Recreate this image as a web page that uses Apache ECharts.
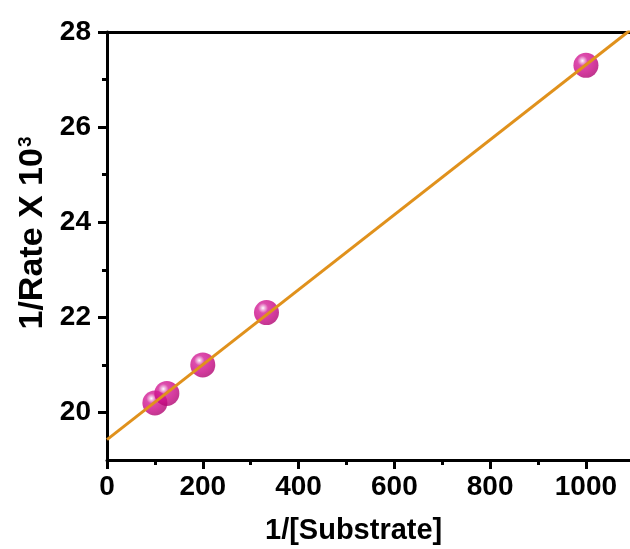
<!DOCTYPE html>
<html>
<head>
<meta charset="utf-8">
<script src="https://cdn.jsdelivr.net/npm/echarts@6/dist/echarts.min.js"></script>
<style>
  html, body { margin: 0; padding: 0; background: #fff; }
  #chart { width: 630px; height: 549px; }
</style>
</head>
<body>
<div id="chart"></div>
<script>
// Lineweaver–Burk style data: 1/[S] against 1/rate (×10^3)
const invSubstrate = [100, 125, 200, 333, 1000];
const invRate = [20.2, 20.4, 21.0, 22.1, 27.3];

const xMajorTicks = [0, 200, 400, 600, 800, 1000];
const xMinorTicks = [100, 300, 500, 700, 900];
const yMajorTicks = [20, 22, 24, 26, 28];
const yMinorTicks = [21, 23, 25, 27];

// least-squares fit through the measured points
function linearFit(xs, ys) {
  const n = xs.length;
  const mx = xs.reduce((a, b) => a + b, 0) / n;
  const my = ys.reduce((a, b) => a + b, 0) / n;
  let sxy = 0, sxx = 0;
  for (let i = 0; i < n; i++) {
    sxy += (xs[i] - mx) * (ys[i] - my);
    sxx += (xs[i] - mx) * (xs[i] - mx);
  }
  const slope = sxy / sxx;
  return { slope, intercept: my - slope * mx };
}

const X_MIN = 0, X_MAX = 1092, Y_MIN = 19, Y_MAX = 28;
const fit = linearFit(invSubstrate, invRate);
const fitLine = [X_MIN, X_MAX].map(x => [x, fit.intercept + fit.slope * x]);

const FONT = 'Liberation Sans';
const axisLineStyle = { color: '#000', width: 3 };
const plain = v => String(v);

const chart = echarts.init(document.getElementById('chart'), null, { renderer: 'canvas' });
chart.setOption({
  backgroundColor: '#fff',
  animation: false,
  grid: { left: 107, top: 32, right: 0, bottom: 89, containLabel: false },
  graphic: [
    {
      type: 'text', left: 265, top: 516,
      style: { text: '1/[Substrate]', fill: '#000', font: 'bold 29px "Liberation Sans"' }
    },
    {
      type: 'text', x: 50, y: 233, rotation: Math.PI / 2, originX: 0, originY: 0,
      style: {
        text: '1/Rate X 10{sup|3}', fill: '#000', align: 'center', verticalAlign: 'bottom',
        font: 'bold 34px "Liberation Sans"',
        rich: {
          sup: { font: 'bold 19px "Liberation Sans"', fill: '#000', verticalAlign: 'top', padding: [0, 0, 15, 1] }
        }
      }
    }
  ],
  xAxis: [
    {
      type: 'value', position: 'bottom', min: X_MIN, max: X_MAX,
      axisLine: { show: true, lineStyle: axisLineStyle },
      axisTick: { show: true, inside: false, length: 9, lineStyle: { color: '#000', width: 3 }, customValues: xMajorTicks },
      axisLabel: { customValues: xMajorTicks, formatter: plain, margin: 13, color: '#000', fontFamily: FONT, fontWeight: 'bold', fontSize: 28 },
      splitLine: { show: false }
    },
    {
      type: 'value', position: 'bottom', min: X_MIN, max: X_MAX,
      axisLine: { show: false },
      axisTick: { show: true, inside: false, length: 5, lineStyle: { color: '#000', width: 3 }, customValues: xMinorTicks },
      axisLabel: { show: false },
      splitLine: { show: false }
    },
    {
      type: 'value', position: 'top', min: X_MIN, max: X_MAX,
      axisLine: { show: true, lineStyle: axisLineStyle },
      axisTick: { show: false }, axisLabel: { show: false }, splitLine: { show: false }
    }
  ],
  yAxis: [
    {
      type: 'value', position: 'left', min: Y_MIN, max: Y_MAX,
      axisLine: { show: true, lineStyle: axisLineStyle },
      axisTick: { show: true, inside: false, length: 9, lineStyle: { color: '#000', width: 3 }, customValues: yMajorTicks },
      axisLabel: { customValues: yMajorTicks, formatter: plain, margin: 16, color: '#000', fontFamily: FONT, fontWeight: 'bold', fontSize: 28 },
      splitLine: { show: false }
    },
    {
      type: 'value', position: 'left', min: Y_MIN, max: Y_MAX,
      axisLine: { show: false },
      axisTick: { show: true, inside: false, length: 5, lineStyle: { color: '#000', width: 3 }, customValues: yMinorTicks },
      axisLabel: { show: false },
      splitLine: { show: false }
    }
  ],
  series: [
    {
      type: 'scatter', xAxisIndex: 0, yAxisIndex: 0, z: 2,
      symbol: 'circle', symbolSize: 25,
      data: invSubstrate.map((x, i) => [x, invRate[i]]),
      itemStyle: {
        color: {
          type: 'radial', x: 0.36, y: 0.32, r: 0.72,
          colorStops: [
            { offset: 0, color: '#ffffff' },
            { offset: 0.08, color: '#f2bde2' },
            { offset: 0.28, color: '#d42098' },
            { offset: 0.7, color: '#c80884' },
            { offset: 1, color: '#ae0470' }
          ]
        }
      }
    },
    {
      type: 'line', xAxisIndex: 0, yAxisIndex: 0, z: 3,
      data: fitLine, showSymbol: false, symbol: 'none', clip: true,
      lineStyle: { color: '#e0911c', width: 3 }
    }
  ]
});
</script>
</body>
</html>
